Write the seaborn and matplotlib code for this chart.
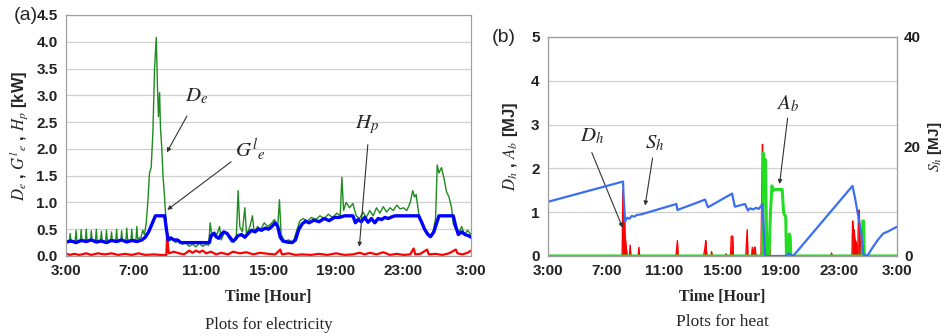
import numpy as np
import pandas as pd
import seaborn as sns
import matplotlib.pyplot as plt

# ---- data: panel (a) electricity, hours after 3:00 ----
de_t = [0.00, 0.20, 0.25, 0.30, 0.55, 0.60, 0.65, 0.85, 0.90, 0.95, 1.15, 1.20, 1.25, 1.45, 1.50, 1.55,
        1.75, 1.80, 1.85, 2.05, 2.10, 2.15, 2.35, 2.40, 2.45, 2.65, 2.70, 2.75, 2.95, 3.00, 3.05, 3.25,
        3.30, 3.35, 3.55, 3.60, 3.65, 3.85, 3.90, 3.95, 4.15, 4.20, 4.25, 4.45, 4.55, 4.65, 4.75, 4.85,
        4.95, 5.05, 5.15, 5.25, 5.35, 5.42, 5.48, 5.55, 5.60, 5.68, 5.75, 5.82, 5.90, 6.00, 6.10, 6.30,
        6.50, 6.70, 6.90, 7.10, 7.30, 7.50, 7.70, 7.90, 8.10, 8.30, 8.45, 8.55, 8.65, 8.80, 8.95, 9.10,
        9.20, 9.40, 9.60, 9.80, 9.95, 10.10, 10.20, 10.30, 10.45, 10.60, 10.70, 10.90, 11.05, 11.15,
        11.35, 11.55, 11.75, 11.95, 12.15, 12.35, 12.55, 12.65, 12.75, 12.95, 13.20, 13.45, 13.65,
        13.85, 14.05, 14.30, 14.55, 14.80, 15.05, 15.30, 15.55, 15.80, 16.05, 16.25, 16.35, 16.45,
        16.60, 16.80, 17.00, 17.20, 17.40, 17.60, 17.80, 18.00, 18.20, 18.40, 18.60, 18.80, 19.00,
        19.20, 19.40, 19.60, 19.80, 20.00, 20.20, 20.40, 20.55, 20.65, 20.75, 20.90, 21.05, 21.25,
        21.45, 21.60, 21.75, 21.90, 22.00, 22.10, 22.25, 22.40, 22.55, 22.70, 22.85, 22.95, 23.10,
        23.30, 23.45, 23.60, 23.80, 24.00]
de_v = [0.25, 0.28, 0.42, 0.27, 0.29, 0.48, 0.28, 0.27, 0.49, 0.28, 0.30, 0.50, 0.29, 0.28, 0.47, 0.30,
        0.29, 0.50, 0.28, 0.30, 0.46, 0.27, 0.28, 0.48, 0.29, 0.30, 0.45, 0.28, 0.29, 0.50, 0.27, 0.30,
        0.47, 0.29, 0.28, 0.52, 0.30, 0.29, 0.50, 0.31, 0.30, 0.55, 0.32, 0.35, 0.48, 0.40, 0.60, 1.00,
        1.55, 1.65, 2.30, 3.50, 4.08, 3.20, 2.60, 3.05, 2.40, 2.00, 1.50, 1.20, 0.80, 0.40, 0.28, 0.32,
        0.25, 0.30, 0.22, 0.25, 0.18, 0.22, 0.17, 0.24, 0.18, 0.22, 0.20, 0.62, 0.35, 0.45, 0.40, 0.55,
        0.30, 0.45, 0.40, 0.35, 0.25, 0.40, 1.22, 0.55, 0.45, 0.90, 0.40, 0.55, 0.75, 0.45,
        0.55, 0.50, 0.62, 0.55, 0.60, 0.68, 0.55, 1.05, 0.40, 0.28, 0.30, 0.25, 0.45,
        0.65, 0.70, 0.65, 0.72, 0.68, 0.75, 0.70, 0.78, 0.72, 0.80, 0.75, 1.47, 0.85,
        1.00, 0.90, 0.98, 0.75, 0.70, 0.82, 0.72, 0.85, 0.75, 0.90, 0.80, 0.92, 0.82,
        0.90, 0.85, 0.95, 0.88, 0.90, 0.85, 1.00, 1.22, 1.10, 1.15, 0.80, 0.65, 0.50,
        0.42, 0.38, 0.45, 0.70, 1.70, 1.55, 1.65, 1.45, 1.20, 1.10, 0.90, 0.60, 0.50,
        0.45, 0.55, 0.40, 0.48, 0.40]

gle_t = [0.00, 0.30, 0.60, 0.90, 1.20, 1.50, 1.80, 2.10, 2.40, 2.70, 3.00, 3.30, 3.60, 3.90, 4.20, 4.50,
         4.70, 4.90, 5.10, 5.30, 5.85, 5.95, 6.05, 6.20, 6.40, 6.60, 6.80, 8.50, 8.60, 8.75, 8.90, 9.05,
         9.20, 9.35, 9.55, 9.70, 9.85, 10.00, 10.20, 10.40, 10.60, 10.80, 11.00, 11.20, 11.40, 11.60,
         11.80, 12.00, 12.20, 12.40, 12.55, 12.70, 12.85, 13.10, 13.40, 13.60, 13.80, 14.00, 14.20,
         14.40, 14.70, 15.00, 15.30, 15.60, 15.90, 16.20, 16.50, 17.00, 17.15, 17.30, 17.50, 17.70,
         17.90, 18.10, 18.30, 18.50, 18.70, 18.90, 19.10, 19.30, 19.50, 20.90, 21.05, 21.25, 21.45,
         21.60, 21.80, 21.95, 22.10, 22.95, 23.10, 23.25, 23.45, 23.65, 23.85, 24.00]
gle_v = [0.26, 0.28, 0.25, 0.29, 0.27, 0.30, 0.26, 0.28, 0.25, 0.29, 0.27, 0.30, 0.26, 0.29, 0.27, 0.30,
         0.35, 0.45, 0.60, 0.75, 0.75, 0.50, 0.30, 0.34, 0.30, 0.30, 0.25, 0.25, 0.38, 0.42, 0.36, 0.33,
         0.40, 0.45, 0.42, 0.35, 0.28, 0.30, 0.38, 0.40, 0.35, 0.42, 0.48, 0.45, 0.50, 0.48,
         0.52, 0.50, 0.55, 0.62, 0.55, 0.35, 0.28, 0.26, 0.25, 0.30, 0.50, 0.60, 0.65,
         0.62, 0.67, 0.64, 0.70, 0.66, 0.72, 0.72, 0.75, 0.75, 0.62, 0.68, 0.64, 0.72,
         0.63, 0.70, 0.62, 0.70, 0.68, 0.72, 0.70, 0.73, 0.75, 0.75, 0.65, 0.50, 0.40,
         0.36, 0.45, 0.60, 0.75, 0.75, 0.55, 0.40, 0.45, 0.40, 0.38, 0.35]

hp_t = [0.0, 0.2, 0.5, 0.8, 1.2, 1.5, 1.9, 2.3, 2.7, 3.1, 3.5, 3.9, 4.3, 4.7, 5.2, 5.6, 5.95, 6.0, 6.05,
        6.1, 6.4, 6.7, 7.0, 7.3, 7.5, 7.7, 7.9, 8.1, 8.3, 8.6, 8.9, 9.2, 9.6, 9.9, 10.3, 10.7, 11.1,
        11.5, 12.0, 12.4, 12.7, 12.8, 13.2, 13.6, 14.0, 14.5, 15.0, 15.5, 16.0, 16.5, 17.0, 17.4, 17.7,
        18.0, 18.4, 18.8, 19.2, 19.6, 20.0, 20.4, 20.6, 20.7, 21.0, 21.4, 21.5, 21.9, 22.3, 22.7, 23.1,
        23.2, 23.5, 23.8, 24.0]
hp_v = [0.05, 0.02, 0.04, 0.02, 0.05, 0.02, 0.05, 0.03, 0.05, 0.02, 0.04, 0.02, 0.05, 0.02, 0.03, 0.02,
        0.02, 0.42, 0.15, 0.05, 0.08, 0.05, 0.03, 0.10, 0.06, 0.10, 0.07, 0.10, 0.05, 0.08, 0.03, 0.06,
        0.03, 0.08, 0.05, 0.07, 0.03, 0.06, 0.04, 0.03, 0.12, 0.03, 0.05, 0.02, 0.03, 0.02, 0.04, 0.02,
        0.05, 0.02, 0.03, 0.06, 0.03, 0.06, 0.03, 0.07, 0.02, 0.04, 0.02, 0.03, 0.14, 0.03, 0.04, 0.12,
        0.03, 0.04, 0.02, 0.05, 0.12, 0.05, 0.03, 0.06, 0.10]

# ---- data: panel (b) heat ----
sh_t = [0.0, 5.16, 5.2, 5.3, 5.45, 5.6, 5.75, 5.95, 6.1, 6.4, 8.83, 8.9, 10.8, 11.0, 12.66, 12.85, 13.55,
        13.75, 13.9, 14.1, 14.3, 14.5, 14.75, 14.93, 16.4, 16.55, 16.7, 16.86, 20.94, 21.1, 21.3, 21.55,
        21.67, 21.8, 22.0, 22.36, 22.7, 23.05, 23.4, 24.0]
sh_v = [9.9, 13.6, 10.8, 6.3, 7.0, 6.8, 7.3, 7.2, 7.5, 7.6, 9.5, 8.4, 10.3, 8.9, 11.4, 9.0, 9.5,
        8.3, 8.7, 8.5, 8.8, 8.6, 9.5, 0.0, 0.0, 0.5, 0.2, 0.0, 12.8, 10.8, 7.8, 4.1,
        0.5, 0.0, 0.2, 1.7, 3.0, 4.1, 4.5, 5.35]

dh_t = [0, 5.1, 5.15, 5.2, 5.25, 5.3, 5.35, 5.45, 5.6, 5.65, 5.7, 6.2, 6.25, 6.3, 8.8, 8.9, 8.95, 10.7,
        10.8, 10.85, 10.9, 10.95, 11.2, 11.25, 11.3, 12.2, 12.25, 12.3, 12.55, 12.6, 12.7, 12.75, 13.6,
        13.7, 13.75, 14.0, 14.05, 14.1, 14.2, 14.25, 14.3, 14.65, 14.7, 14.75, 14.8, 14.85, 15.2, 15.25,
        15.3, 16.55, 16.6, 16.65, 19.45, 19.5, 19.55, 20.9, 20.95, 21.0, 21.05, 21.1, 21.2, 21.25, 21.3,
        21.35, 21.4, 21.45, 21.5, 24]
dh_v = [0, 0, 1.5, 0.9, 1.1, 0.5, 0.3, 0, 0, 0.25, 0, 0, 0.2, 0, 0, 0.35, 0, 0,
        0.2, 0.35, 0.1, 0, 0, 0.1, 0, 0, 0.05, 0, 0, 0.45, 0.45, 0, 0,
        0.6, 0, 0, 0.2, 0, 0.2, 0.2, 0, 0, 1.5, 2.55, 1.2, 0, 0, 0.2,
        0, 0, 0.2, 0, 0, 0.07, 0, 0, 0.8, 0.55, 0.6, 0.4, 0.3, 0.1, 0,
        0.9, 1.05, 0.5, 0, 0]

ab_t = [0, 14.75, 14.8, 14.85, 14.95, 15.05, 15.2, 15.3, 15.4, 15.5, 15.6, 16.1, 16.2, 16.25, 16.35, 16.4,
        16.55, 16.6, 16.65, 16.7, 21.6, 21.65, 21.7, 21.75, 24]
ab_v = [0, 0, 2.35, 2.2, 2.2, 0, 0, 1.0, 1.6, 1.5, 1.52, 1.52, 1.0, 0.95, 0.9, 0,
        0, 0.5, 0.45, 0, 0, 0.8, 0.8, 0, 0]

hour_ticks = [0, 4, 8, 12, 16, 20, 24]
hour_labels = ['3:00', '7:00', '11:00', '15:00', '19:00', '23:00', '3:00']

sns.set_style("white")
plt.rcParams['mathtext.fontset'] = 'stix'
plt.rcParams['font.family'] = ['Liberation Sans', 'DejaVu Sans']

fig = plt.figure(figsize=(9.45, 3.36), dpi=100)
ax1 = fig.add_axes([0.0698, 0.2381, 0.4286, 0.7173])
ax2 = fig.add_axes([0.5799, 0.2381, 0.3693, 0.6518])
ax3 = ax2.twinx()

tick_kw = dict(fontsize=11, fontweight='bold', color='#222222')
serif = ['Liberation Serif', 'DejaVu Serif']


def style_axis(ax, ymax, ystep):
    ax.set_xlim(0, 24)
    ax.set_ylim(0, ymax)
    ax.set_xticks(hour_ticks)
    ax.set_xticklabels(hour_labels, **tick_kw)
    ax.set_yticks(np.arange(0, ymax + 1e-9, ystep))
    ax.grid(axis='y', color='#d0d0d0', linewidth=0.9)
    ax.set_axisbelow(True)
    for s in ax.spines.values():
        s.set_color('#a0a0a0')
        s.set_linewidth(0.9)
    ax.tick_params(length=0, pad=6)
    ax.set_xlabel('Time [Hour]', fontsize=11.5, fontweight='bold', family=serif, labelpad=8)


# ---- (a) electricity ----
sns.lineplot(x=de_t, y=de_v, ax=ax1, color='#1f8a1f', linewidth=1.0)
sns.lineplot(x=hp_t, y=hp_v, ax=ax1, color='#ff0000', linewidth=1.6)
sns.lineplot(x=gle_t, y=gle_v, ax=ax1, color='#0000ff', linewidth=2.4)
style_axis(ax1, 4.5, 0.5)
ax1.set_yticklabels([f'{v:.1f}' for v in np.arange(0, 4.51, 0.5)], **tick_kw)
ax1.set_ylabel(r'$D_e$ , $G^l{}_e$ , $H_p$ [kW]', fontsize=12, fontweight='bold', labelpad=4)
fig.text(0.040, 1 - 15 / 336, '(a)', ha='right', va='center', fontsize=14)
fig.text(0.5 * (0.0698 + 0.4984), 1 - 325 / 336, 'Plots for electricity', ha='center', va='center',
         fontsize=12, family=serif)

arr = dict(arrowstyle='-|>', color='#333333', lw=0.8, mutation_scale=6)
ax1.annotate('', xy=(5.9, 1.89), xytext=(7.25, 2.66), arrowprops=arr)
ax1.text(7.05, 2.88, r'$\mathbf{\mathit{D}}_{\mathit{e}}$', fontsize=15)
ax1.annotate('', xy=(5.87, 0.83), xytext=(9.92, 1.79), arrowprops=arr)
ax1.text(10.0, 1.85, r'$\mathbf{\mathit{G}}^{\,l}{}_{\mathit{e}}$', fontsize=15)
ax1.annotate('', xy=(17.37, 0.12), xytext=(17.9, 2.13), arrowprops=arr)
ax1.text(17.1, 2.38, r'$\mathbf{\mathit{H}}_{\mathit{p}}$', fontsize=15)

# ---- (b) heat ----
ax2.fill_between(dh_t, dh_v, color='#ff0000', linewidth=0)
sns.lineplot(x=dh_t, y=dh_v, ax=ax2, color='#ff0000', linewidth=1.0)
sns.lineplot(x=ab_t, y=ab_v, ax=ax2, color='#22dd22', linewidth=2.2)
sns.lineplot(x=sh_t, y=sh_v, ax=ax3, color='#3a6ff0', linewidth=1.6)
style_axis(ax2, 5, 1)
ax2.set_yticklabels([str(v) for v in range(6)], **tick_kw)
ax2.set_ylabel(r'$D_h$ , $A_b$ [MJ]', fontsize=12, fontweight='bold', labelpad=8)
ax3.set_ylim(0, 40)
ax3.set_yticks([0, 20, 40])
ax3.set_yticklabels(['0', '20', '40'], **tick_kw)
ax3.tick_params(length=0, pad=5)
for s in ax3.spines.values():
    s.set_color('#a0a0a0')
ax3.set_ylabel(r'$S_h$ [MJ]', fontsize=11, fontweight='bold', labelpad=4)
fig.text(0.546, 1 - 37 / 336, '(b)', ha='right', va='center', fontsize=14)
fig.text(0.5 * (0.5799 + 0.9492), 1 - 322 / 336, 'Plots for heat', ha='center', va='center',
         fontsize=12.5, family=serif)

ax2.annotate('', xy=(5.2, 0.59), xytext=(2.94, 2.42), arrowprops=arr)
ax2.text(2.2, 2.62, r'$\mathbf{\mathit{D}}_{\mathit{h}}$', fontsize=15)
ax2.annotate('', xy=(6.65, 1.09), xytext=(7.22, 2.3), arrowprops=arr)
ax2.text(6.7, 2.47, r'$\mathbf{\mathit{S}}_{\mathit{h}}$', fontsize=15)
ax2.annotate('', xy=(15.9, 1.58), xytext=(16.5, 3.21), arrowprops=arr)
ax2.text(15.7, 3.34, r'$\mathbf{\mathit{A}}_{\mathit{b}}$', fontsize=15)

fig.savefig('out.png', dpi=100)
